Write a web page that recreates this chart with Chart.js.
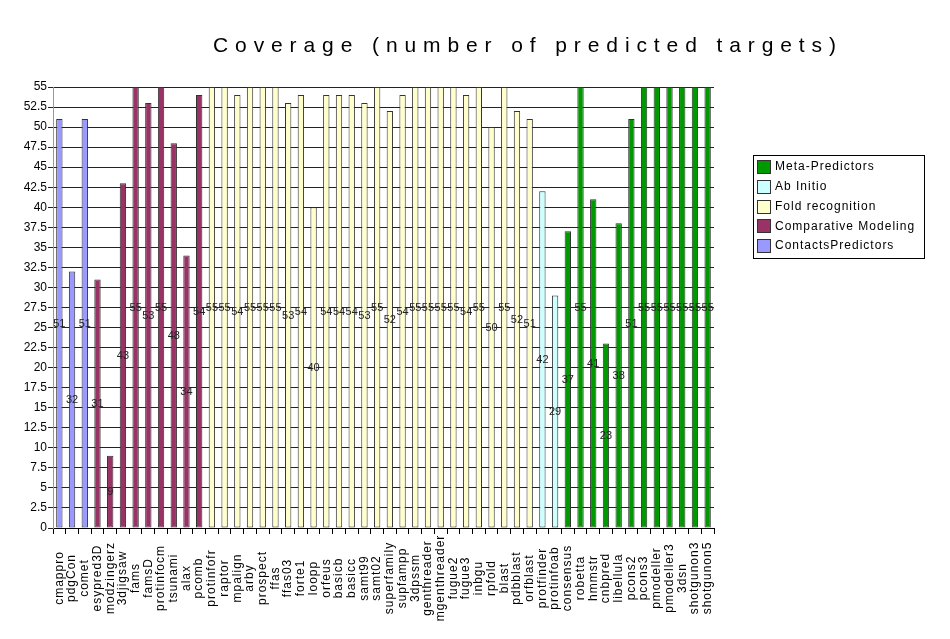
<!DOCTYPE html>
<html>
<head>
<meta charset="utf-8">
<script src="https://cdn.jsdelivr.net/npm/chart.js@4/dist/chart.umd.min.js"></script>
<style>
  body { margin: 0; background: #fff; }
  #wrap { width: 950px; height: 639px; }
</style>
</head>
<body>
<div id="wrap"><canvas id="coverageChart" width="950" height="639"></canvas></div>
<script>
// predictors per group and number of predicted targets
const contactsNames = ['cmappro', 'pdgCon', 'comet'];
const contactsValues = [51, 32, 51];

const comparativeNames = ['esypred3D', 'modzingerz', '3djigsaw', 'fams', 'famsD', 'protinfocm', 'tsunami', 'alax', 'pcomb'];
const comparativeValues = [31, 9, 43, 55, 53, 55, 48, 34, 54];

const foldNames = ['protinfofr', 'raptor', 'mpalign', 'arby', 'prospect', 'ffas', 'ffas03', 'forte1', 'loopp',
    'orfeus', 'basicb', 'basicc', 'samt99', 'samt02', 'superfamily', 'supfampp', '3dpssm', 'genthreader',
    'mgenthreader', 'fugue2', 'fugue3', 'inbgu', 'rpfold', 'blast', 'pdbblast', 'orfblast'];
const foldValues = [55, 55, 54, 55, 55, 55, 53, 54, 40,
    54, 54, 54, 53, 55, 52, 54, 55, 55,
    55, 55, 54, 55, 50, 55, 52, 51];

const abInitioNames = ['protfinder', 'protinfoab'];
const abInitioValues = [42, 29];

const metaNames = ['consensus', 'robetta', 'hmmstr', 'cnbpred', 'libellula', 'pcons2', 'pcons3', 'pmodeller',
    'pmodeller3', '3dsn', 'shotgunon3', 'shotgunon5'];
const metaValues = [37, 55, 41, 23, 38, 51, 55, 55, 55, 55, 55, 55];

const yTicksMax = 55;
const yTicksStep = 2.5;

const FONT = '"Liberation Sans", Arial, sans-serif';

// groups in the order they appear on the axis
const groups = [
    { label: 'ContactsPredictors', names: contactsNames, values: contactsValues, color: '#9999FF' },
    { label: 'Comparative Modeling', names: comparativeNames, values: comparativeValues, color: '#993366' },
    { label: 'Fold recognition', names: foldNames, values: foldValues, color: '#FFFFCC' },
    { label: 'Ab Initio', names: abInitioNames, values: abInitioValues, color: '#CCFFFF' },
    { label: 'Meta-Predictors', names: metaNames, values: metaValues, color: '#009900' }
];

const categories = [];
groups.forEach(g => g.names.forEach(n => categories.push(n)));

let offset = 0;
const datasets = groups.map(g => {
    const data = categories.map(() => null);
    g.values.forEach((v, i) => { data[offset + i] = v; });
    offset += g.values.length;
    return {
        label: g.label,
        data: data,
        backgroundColor: g.color,
        borderColor: '#333',
        borderWidth: 1,
        borderSkipped: false,
        barPercentage: 0.5,
        categoryPercentage: 1.0
    };
});

// value labels in the middle of each bar, rotated axis labels, title and legend box
const decorations = {
    id: 'decorations',
    afterDatasetsDraw(chart) {
        const ctx = chart.ctx;
        const y = chart.scales.y;
        ctx.save();
        ctx.font = '11px ' + FONT;
        ctx.fillStyle = '#222';
        ctx.textAlign = 'center';
        ctx.textBaseline = 'middle';
        chart.data.datasets.forEach((ds, di) => {
            const meta = chart.getDatasetMeta(di);
            ds.data.forEach((v, i) => {
                if (v === null) return;
                ctx.fillText(String(v), meta.data[i].x, y.getPixelForValue(v / 2));
            });
        });
        ctx.restore();
    },
    afterDraw(chart) {
        const ctx = chart.ctx;
        const x = chart.scales.x;
        ctx.save();

        // category labels, vertical and centred
        ctx.font = '12px ' + FONT;
        ctx.letterSpacing = '1px';
        ctx.fillStyle = '#000';
        ctx.textAlign = 'center';
        ctx.textBaseline = 'middle';
        chart.data.labels.forEach((lab, i) => {
            ctx.save();
            ctx.translate(x.getPixelForValue(i), 578);
            ctx.rotate(-Math.PI / 2);
            ctx.fillText(lab, 0, 0);
            ctx.restore();
        });

        // title
        ctx.font = '21px ' + FONT;
        ctx.letterSpacing = '6.9px';
        ctx.textAlign = 'left';
        ctx.textBaseline = 'alphabetic';
        ctx.fillText('Coverage (number of predicted targets)', 213, 52);

        // legend
        ctx.letterSpacing = '1px';
        ctx.lineWidth = 1;
        ctx.strokeStyle = '#000';
        ctx.strokeRect(753.5, 155.5, 171, 103);
        ctx.font = '12px ' + FONT;
        ctx.textBaseline = 'middle';
        const items = chart.data.datasets.slice().reverse();
        items.forEach((ds, i) => {
            const cy = 167 + i * 19.75;
            ctx.fillStyle = ds.backgroundColor;
            ctx.fillRect(757.5, Math.round(cy - 7) + 0.5, 13, 13);
            ctx.strokeStyle = '#333';
            ctx.strokeRect(757.5, Math.round(cy - 7) + 0.5, 13, 13);
            ctx.fillStyle = '#000';
            ctx.fillText(ds.label, 775, cy);
        });
        ctx.restore();
    }
};

Chart.defaults.font.family = FONT;
Chart.defaults.font.size = 12;
Chart.defaults.color = '#000';

const ctx = document.getElementById('coverageChart').getContext('2d');
const coverageChart = new Chart(ctx, {
    type: 'bar',
    data: {
        labels: categories,
        datasets: datasets
    },
    options: {
        responsive: false,
        animation: false,
        layout: {
            padding: { top: 87, right: 236, bottom: 0, left: 0 }
        },
        plugins: {
            legend: { display: false },
            title: { display: false },
            tooltip: { enabled: false }
        },
        scales: {
            x: {
                stacked: true,
                ticks: { display: false, autoSkip: false },
                grid: {
                    offset: true,
                    drawOnChartArea: false,
                    drawTicks: true,
                    tickLength: 6,
                    color: '#000'
                },
                border: { color: '#000' },
                afterFit(scale) { scale.height = 111; }
            },
            y: {
                stacked: true,
                min: 0,
                max: yTicksMax,
                ticks: {
                    stepSize: yTicksStep,
                    padding: 1,
                    font: { size: 12 },
                    color: '#000'
                },
                grid: {
                    color: '#222',
                    tickLength: 5
                },
                border: { color: '#999' },
                afterFit(scale) { scale.width = 53; }
            }
        }
    },
    plugins: [decorations]
});
</script>
</body>
</html>
